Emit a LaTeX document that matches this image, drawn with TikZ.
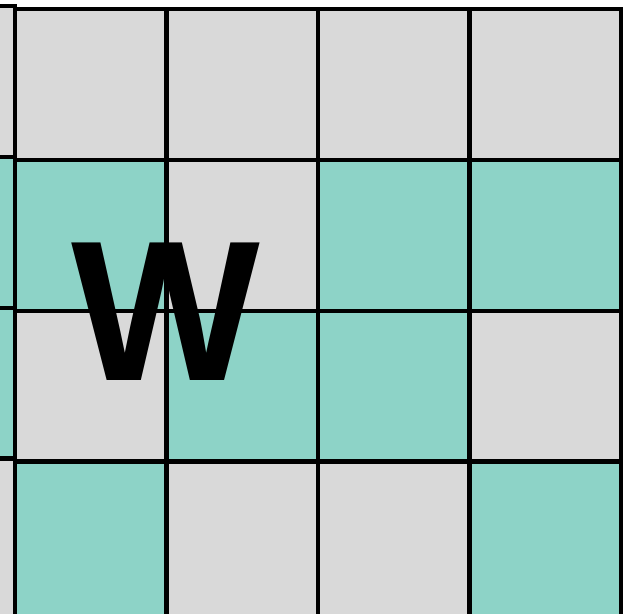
\documentclass[tikz,border=0pt]{standalone}
\usepackage{fontspec}
\setmainfont{Liberation Sans}
\usetikzlibrary{positioning}
\definecolor{cellgray}{HTML}{D9D9D9}
\definecolor{cellteal}{HTML}{8DD3C7}

\begin{document}
\begin{tikzpicture}[x=1pt, y=-1pt, line width=4.2pt]
  \useasboundingbox (0,0) rectangle (623,613);
  % cut-off column on the left
  \foreach \j/\c in {0/cellgray,1/cellteal,2/cellteal,3/cellgray} {
    \filldraw[fill=\c] (-136.5,6+\j*150.8) rectangle ++(151.5,{\j<3 ? 150.8 : 158});
  }
  % main grid, one row per entry (the last row runs off the page)
  \foreach \j/\a/\b/\c/\d in {0/gray/gray/gray/gray,1/teal/gray/teal/teal,2/gray/teal/teal/gray,3/teal/gray/gray/teal} {
    \foreach \i/\col in {0/\a,1/\b,2/\c,3/\d} {
      \filldraw[fill=cell\col] (15+\i*151.5,9+\j*150.8) rectangle ++(151.5,{\j<3 ? 150.8 : 158});
    }
  }
  \node[inner sep=0, font=\fontsize{200}{200}\selectfont\bfseries] (letter) at (166,311.5) {W};
\end{tikzpicture}
\end{document}
